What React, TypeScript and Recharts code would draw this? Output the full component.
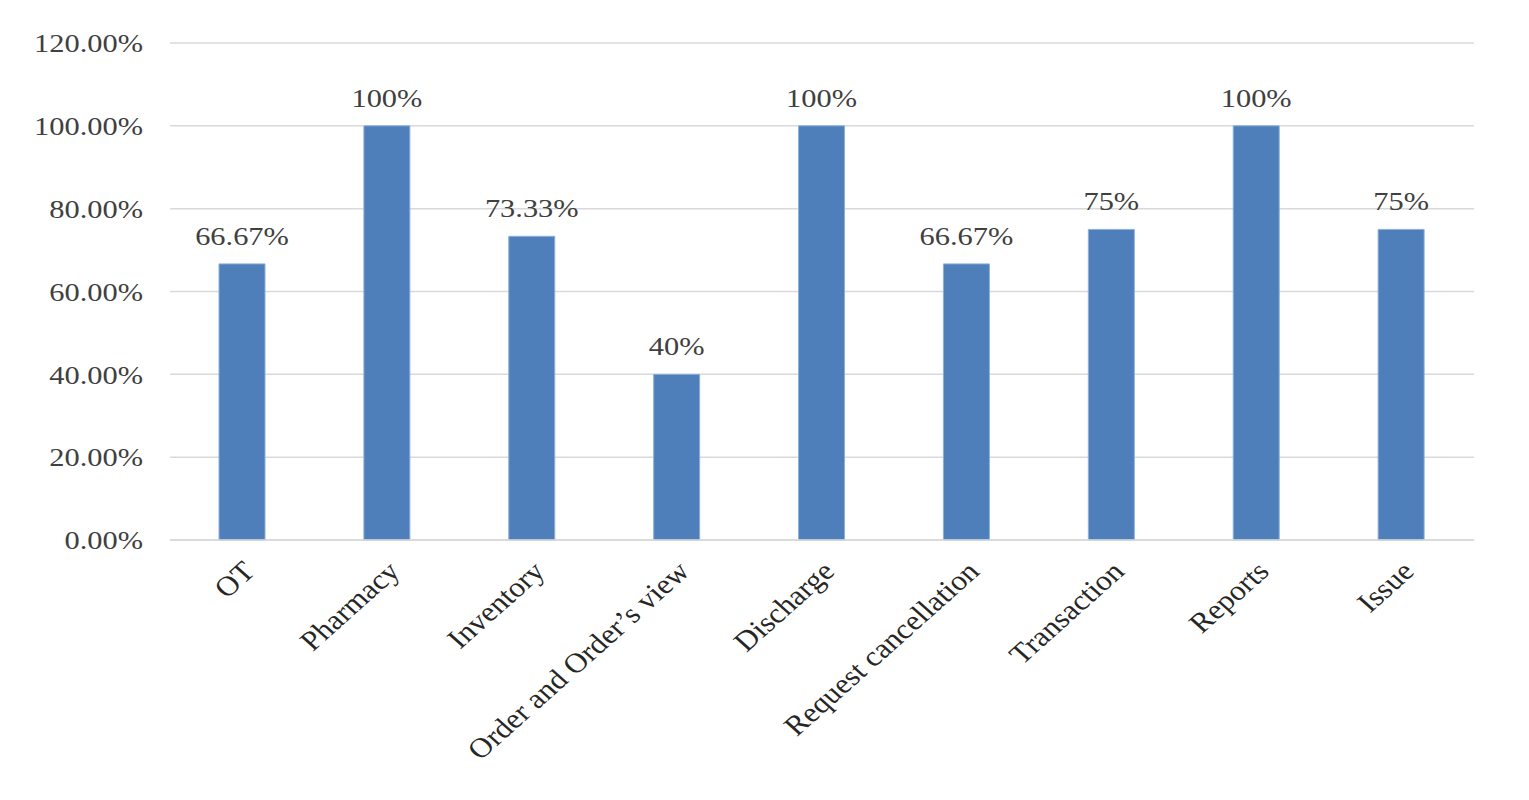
import React from "react";
import { BarChart, Bar, XAxis, YAxis, CartesianGrid, LabelList } from "recharts";

const categories = [
  "OT",
  "Pharmacy",
  "Inventory",
  "Order and Order\u2019s view",
  "Discharge",
  "Request cancellation",
  "Transaction",
  "Reports",
  "Issue",
];
const values = [66.67, 100, 73.33, 40, 100, 66.67, 75, 100, 75];
const valueLabels = ["66.67%", "100%", "73.33%", "40%", "100%", "66.67%", "75%", "100%", "75%"];
const yTicks = [0, 20, 40, 60, 80, 100, 120];

const data = categories.map((name, i) => ({ name, value: values[i], label: valueLabels[i] }));

const FONT = "'Liberation Serif', 'Times New Roman', serif";
const SX = 1.17;
const FS = 26;

const YTick = (props: any) => {
  const { x, y, payload } = props;
  return (
    <text
      transform={`translate(${x},${y}) scale(${SX},1)`}
      textAnchor="end"
      dy="0.355em"
      fontFamily={FONT}
      fontSize={FS}
      fill="#404040"
    >
      {payload.value.toFixed(2)}%
    </text>
  );
};

const XTick = (props: any) => {
  const { x, y, payload } = props;
  return (
    <text
      transform={`translate(${x + 14},${y + 7}) scale(1.12,1) rotate(-45)`}
      textAnchor="end"
      fontFamily={FONT}
      fontSize={28}
      fill="#262626"
    >
      {payload.value}
    </text>
  );
};

const ValueLabel = (props: any) => {
  const { x, y, width, value } = props;
  return (
    <text
      transform={`translate(${x + width / 2},${y - 19}) scale(${SX},1)`}
      textAnchor="middle"
      fontFamily={FONT}
      fontSize={FS}
      fill="#404040"
    >
      {value}
    </text>
  );
};

export default function App() {
  return (
    <div style={{ position: "absolute", left: 0, top: 0, width: 1529, height: 800, background: "#fff" }}>
      <BarChart
        width={1529}
        height={800}
        data={data}
        margin={{ top: 43, right: 55, left: 0, bottom: 0 }}
        barSize={46}
      >
        <CartesianGrid horizontal vertical={false} stroke="#d9d9d9" strokeWidth={1.5} />
        <XAxis
          dataKey="name"
          interval={0}
          tickLine={false}
          axisLine={{ stroke: "#d9d9d9", strokeWidth: 1.5 }}
          height={260}
          tickMargin={20}
          tick={<XTick />}
        />
        <YAxis
          domain={[0, 120]}
          ticks={yTicks}
          width={170}
          tickLine={false}
          axisLine={false}
          tickMargin={21}
          tick={<YTick />}
        />
        <Bar dataKey="value" fill="#4E7FBB" stroke="#8DB0DA" strokeWidth={1} isAnimationActive={false}>
          <LabelList dataKey="label" content={<ValueLabel />} />
        </Bar>
      </BarChart>
    </div>
  );
}
